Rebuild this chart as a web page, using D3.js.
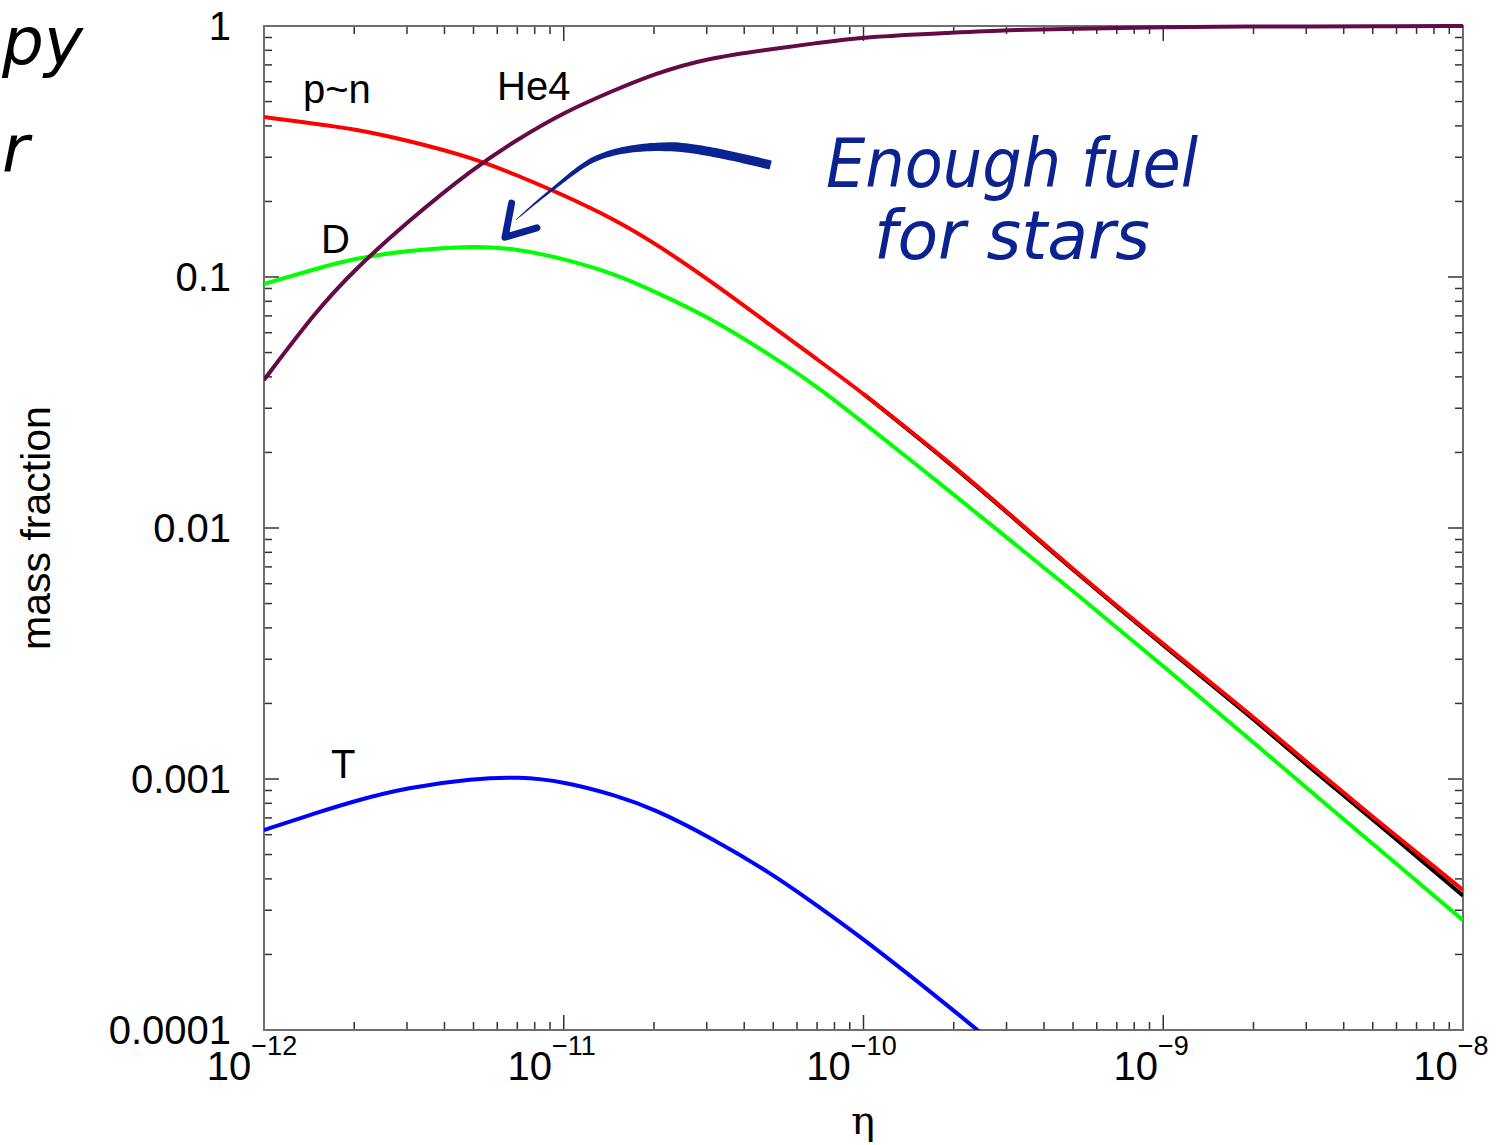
<!DOCTYPE html>
<html>
<head>
<meta charset="utf-8">
<script src="https://cdn.jsdelivr.net/npm/d3@7"></script>
<style>
  body { margin: 0; background: #fff; }
  text { font-family: "Liberation Sans", Arial, Helvetica, sans-serif; }
</style>
</head>
<body>
<svg id="chart" width="1503" height="1145"></svg>
<script>
// eta values where the curves were read
var etaGrid = [1e-12, 1.5e-12, 2e-12, 3e-12, 5e-12, 7e-12, 1e-11, 1.5e-11, 2e-11, 3e-11, 5e-11,
               7e-11, 1e-10, 2e-10, 3e-10, 5e-10, 1e-9, 2e-9, 3e-9, 5e-9, 1e-8];

// mass fractions
var pn  = [0.434, 0.407, 0.389, 0.351, 0.298, 0.254, 0.212, 0.168, 0.137, 0.099, 0.0631,
           0.0470, 0.0344, 0.0177, 0.01165, 0.00684, 0.00344, 0.00177, 0.00117, 0.000706, 0.000361];
var deut = [0.0938, 0.108, 0.1186, 0.1273, 0.1335, 0.1293, 0.1184, 0.1024, 0.0877, 0.0700, 0.0481,
            0.0366, 0.0263, 0.0136, 0.00918, 0.00561, 0.00282, 0.00140, 0.000923, 0.000551, 0.000274];
var he4 = [0.0389, 0.0738, 0.1066, 0.1656, 0.2714, 0.353, 0.453, 0.560, 0.644, 0.745, 0.811,
           0.855, 0.904, 0.941, 0.964, 0.975, 0.991, 0.995, 0.996, 0.998, 1.0];
var trit = [6.26e-4, 7.34e-4, 8.17e-4, 9.25e-4, 1.004e-3, 1.020e-3, 9.79e-4, 8.59e-4, 7.59e-4,
            5.96e-4, 4.17e-4, 3.13e-4, 2.31e-4, 1.20e-4, 8.0e-5];
// dark curve hiding under p~n (from eta = 1e-10 on)
var under = [0.0342, 0.0176, 0.01158, 0.00679, 0.00340, 0.00174, 0.00114, 0.000690, 0.000343];

var yTickValues = [1, 0.1, 0.01, 0.001, 0.0001];
var yTickLabels = ['1', '0.1', '0.01', '0.001', '0.0001'];
var xTickValues = [1e-12, 1e-11, 1e-10, 1e-9, 1e-8];
var xTickExps = ['\u221212', '\u221211', '\u221210', '\u22129', '\u22128'];

// annotation arrow path, in (eta, fraction)
var arrowCurve = [[4.9e-11, 0.279], [2.3e-11, 0.330], [1.32e-11, 0.301], [9.1e-12, 0.222], [6.93e-12, 0.169]];
var arrowHead = [[6.7e-12, 0.197], [6.37e-12, 0.144], [8.14e-12, 0.157]];

var svg = d3.select('#chart');
var plot = {l: 264, r: 1463, t: 26, b: 1030};

var x = d3.scaleLog().domain([1e-12, 1e-8]).range([plot.l, plot.r]);
var y = d3.scaleLog().domain([1e-4, 1]).range([plot.b, plot.t]);

svg.append('rect').attr('width', 1503).attr('height', 1145).attr('fill', 'white');

svg.append('clipPath').attr('id', 'clip')
    .append('rect')
    .attr('x', plot.l).attr('y', plot.t - 3)
    .attr('width', plot.r - plot.l).attr('height', plot.b - plot.t + 3);

// ticks on all four sides
var isMajor = function(v) {
    var l = Math.log10(v);
    return Math.abs(l - Math.round(l)) < 1e-6;
};
var xt = x.ticks();
var yt = y.ticks();
var ticks = svg.append('g').attr('stroke', '#333').attr('stroke-width', 1.5);
xt.forEach(function(v) {
    var len = isMajor(v) ? 15 : 8;
    ticks.append('line').attr('x1', x(v)).attr('x2', x(v)).attr('y1', plot.b).attr('y2', plot.b - len);
    ticks.append('line').attr('x1', x(v)).attr('x2', x(v)).attr('y1', plot.t).attr('y2', plot.t + len);
});
yt.forEach(function(v) {
    var len = isMajor(v) ? 15 : 8;
    ticks.append('line').attr('y1', y(v)).attr('y2', y(v)).attr('x1', plot.l).attr('x2', plot.l + len);
    ticks.append('line').attr('y1', y(v)).attr('y2', y(v)).attr('x1', plot.r).attr('x2', plot.r - len);
});

// frame
svg.append('rect')
    .attr('x', plot.l).attr('y', plot.t)
    .attr('width', plot.r - plot.l).attr('height', plot.b - plot.t)
    .attr('fill', 'none').attr('stroke', '#6e6e6e').attr('stroke-width', 2);

// tick labels
svg.selectAll('.ylab')
    .data(yTickValues)
    .enter().append('text')
    .attr('class', 'ylab')
    .attr('x', 231)
    .attr('y', function(d) { return y(d) + 14; })
    .attr('text-anchor', 'end')
    .attr('font-size', 40)
    .text(function(d, i) { return yTickLabels[i]; });

var xl = svg.selectAll('.xlab')
    .data(xTickValues)
    .enter().append('text')
    .attr('class', 'xlab')
    .attr('x', function(d) { return x(d) - 12; })
    .attr('y', 1080)
    .attr('text-anchor', 'middle')
    .attr('font-size', 40);
xl.append('tspan').text('10');
xl.append('tspan')
    .attr('dy', -25)
    .attr('font-size', 27)
    .text(function(d, i) { return xTickExps[i]; });

// axis titles
svg.append('text')
    .attr('transform', 'translate(50,528) rotate(-90)')
    .attr('text-anchor', 'middle')
    .attr('font-size', 41)
    .text('mass fraction');

svg.append('text')
    .attr('x', 863).attr('y', 1134)
    .attr('text-anchor', 'middle')
    .attr('font-size', 40)
    .style('font-family', '"DejaVu Serif", "Liberation Serif", serif')
    .text('\u03b7');

// curves
var line = d3.line()
    .x(function(d) { return x(d[0]); })
    .y(function(d) { return y(d[1]); })
    .curve(d3.curveBasis);

var series = [
    {vals: deut, off: 0, color: '#00ff00'},
    {vals: trit, off: 0, color: '#0000ff'},
    {vals: under, off: 12, color: '#000000'},
    {vals: pn, off: 0, color: '#ff0000'},
    {vals: he4, off: 0, color: '#660a46'}
];

var curves = svg.append('g').attr('clip-path', 'url(#clip)');
series.forEach(function(s) {
    var pts = s.vals.map(function(v, i) { return [etaGrid[i + s.off], v]; });
    curves.append('path')
        .attr('d', line(pts))
        .attr('fill', 'none')
        .attr('stroke', s.color)
        .attr('stroke-width', 4)
        .attr('stroke-linejoin', 'round');
});

// curve labels
var labels = [
    {t: 'p~n', x: 303, y: 103},
    {t: 'He4', x: 497, y: 100},
    {t: 'D', x: 321, y: 253},
    {t: 'T', x: 331, y: 778}
];
svg.selectAll('.clab')
    .data(labels)
    .enter().append('text')
    .attr('class', 'clab')
    .attr('x', function(d) { return d.x; })
    .attr('y', function(d) { return d.y; })
    .attr('font-size', 40)
    .text(function(d) { return d.t; });

// hand-drawn annotation
var navy = '#0b2391';
var hand = '"DejaVu Sans", sans-serif';

var guide = svg.append('path')
    .attr('d', d3.line().x(function(d) { return x(d[0]); }).y(function(d) { return y(d[1]); })
        .curve(d3.curveCatmullRom.alpha(0.5))(arrowCurve))
    .attr('fill', 'none')
    .attr('stroke', 'none');
var node = guide.node();
var L = node.getTotalLength();
var n = 80;
var samples = d3.range(n + 1).map(function(i) { return node.getPointAtLength(L * i / n); });
var left = [], right = [];
samples.forEach(function(p, i) {
    var a = samples[Math.max(0, i - 1)], b = samples[Math.min(n, i + 1)];
    var dx = b.x - a.x, dy = b.y - a.y, m = Math.hypot(dx, dy) || 1;
    var t = i / n;
    var w = t < 0.35 ? 4.6 : 4.6 - (t - 0.35) / 0.65 * 4.2;
    left.push([p.x - dy / m * w, p.y + dx / m * w]);
    right.push([p.x + dy / m * w, p.y - dx / m * w]);
});
svg.append('path')
    .attr('d', 'M' + left.concat(right.reverse()).map(function(p) { return p.join(','); }).join('L') + 'Z')
    .attr('fill', navy);
guide.remove();

svg.append('path')
    .attr('d', d3.line().x(function(d) { return x(d[0]); }).y(function(d) { return y(d[1]); })(arrowHead))
    .attr('fill', 'none')
    .attr('stroke', navy)
    .attr('stroke-width', 7)
    .attr('stroke-linecap', 'round')
    .attr('stroke-linejoin', 'round');

svg.append('text')
    .attr('x', 826).attr('y', 187)
    .attr('font-size', 68)
    .attr('font-style', 'italic')
    .attr('textLength', 372)
    .attr('lengthAdjust', 'spacingAndGlyphs')
    .attr('fill', navy)
    .style('font-family', hand)
    .text('Enough fuel');

svg.append('text')
    .attr('x', 874).attr('y', 259)
    .attr('font-size', 68)
    .attr('font-style', 'italic')
    .attr('textLength', 276)
    .attr('lengthAdjust', 'spacingAndGlyphs')
    .attr('fill', navy)
    .style('font-family', hand)
    .text('for stars');

// handwriting fragments from the slide at the left edge
svg.append('text')
    .attr('x', 2).attr('y', 64)
    .attr('font-size', 66)
    .attr('font-style', 'italic')
    .style('font-family', hand)
    .text('py');
svg.append('text')
    .attr('x', 2).attr('y', 172)
    .attr('font-size', 66)
    .attr('font-style', 'italic')
    .style('font-family', hand)
    .text('r');
</script>
</body>
</html>
